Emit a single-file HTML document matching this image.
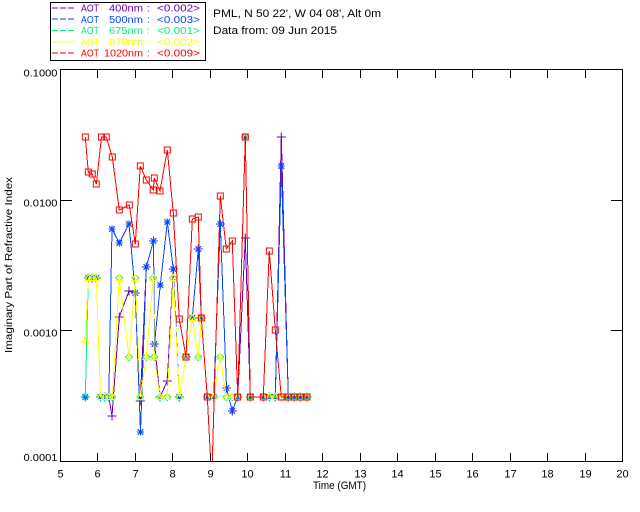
<!DOCTYPE html>
<html>
<head>
<meta charset="utf-8">
<style>
  html,body{margin:0;padding:0;background:#fff;}
  svg{display:block;}
  text{font-family:"Liberation Sans", sans-serif;}
</style>
</head>
<body>
<svg width="640" height="512" viewBox="0 0 640 512" xmlns="http://www.w3.org/2000/svg">
  <defs>
    <clipPath id="plot"><rect x="60" y="69" width="563" height="393"/></clipPath>
    <marker id="mPlus" markerUnits="userSpaceOnUse" markerWidth="12" markerHeight="12" viewBox="-6 -6 12 12" refX="0" refY="0" overflow="visible">
      <path d="M-4.5 0H4.5M0 -4.5V4.5" stroke="#6c00b4" stroke-width="1" fill="none"/>
    </marker>
    <marker id="mStar" markerUnits="userSpaceOnUse" markerWidth="12" markerHeight="12" viewBox="-6 -6 12 12" refX="0" refY="0" overflow="visible">
      <path d="M-3.5 0H3.5M0 -3.5V3.5M-2.8 -2.8L2.8 2.8M-2.8 2.8L2.8 -2.8" stroke="#0a46ff" stroke-width="1.1" fill="none"/>
    </marker>
    <marker id="mDia" markerUnits="userSpaceOnUse" markerWidth="12" markerHeight="12" viewBox="-6 -6 12 12" refX="0" refY="0" overflow="visible">
      <path d="M0 -3.5L3.5 0L0 3.5L-3.5 0Z" stroke="#00f080" stroke-width="1" fill="none"/>
    </marker>
    <marker id="mTri" markerUnits="userSpaceOnUse" markerWidth="12" markerHeight="12" viewBox="-6 -6 12 12" refX="0" refY="0" overflow="visible">
      <path d="M0 -3.5L3.5 2.5L-3.5 2.5Z" stroke="#ffff00" stroke-width="1" fill="none"/>
    </marker>
    <marker id="mSq" markerUnits="userSpaceOnUse" markerWidth="12" markerHeight="12" viewBox="-6 -6 12 12" refX="0" refY="0" overflow="visible">
      <rect x="-3" y="-3" width="6" height="6" stroke="#ff0000" stroke-width="1" fill="none"/>
    </marker>
  </defs>

  <!-- Legend -->
  <rect x="50.5" y="2.5" width="155" height="58" fill="none" stroke="#000" stroke-width="1"/>
  <g stroke-width="1" stroke-dasharray="6,2">
    <line x1="52" y1="8" x2="74" y2="8" stroke="#6c00b4"/>
    <line x1="52" y1="19" x2="74" y2="19" stroke="#0a46ff"/>
    <line x1="52" y1="30.5" x2="74" y2="30.5" stroke="#00f080"/>
    <line x1="52" y1="42" x2="74" y2="42" stroke="#ffff00"/>
    <line x1="52" y1="53" x2="74" y2="53" stroke="#ff0000"/>
  </g>
  <g font-size="10">
    <g fill="#6c00b4">
      <text x="81" y="11.5" textLength="18" lengthAdjust="spacingAndGlyphs">AOT</text>
      <text x="109" y="11.5" textLength="34" lengthAdjust="spacingAndGlyphs">400nm</text>
      <text x="147" y="11.5">:</text>
      <text x="157" y="11.5" textLength="43" lengthAdjust="spacingAndGlyphs">&lt;0.002&gt;</text>
    </g>
    <g fill="#0a46ff">
      <text x="81" y="22.8" textLength="18" lengthAdjust="spacingAndGlyphs">AOT</text>
      <text x="109" y="22.8" textLength="34" lengthAdjust="spacingAndGlyphs">500nm</text>
      <text x="147" y="22.8">:</text>
      <text x="157" y="22.8" textLength="43" lengthAdjust="spacingAndGlyphs">&lt;0.003&gt;</text>
    </g>
    <g fill="#00f080">
      <text x="81" y="34.1" textLength="18" lengthAdjust="spacingAndGlyphs">AOT</text>
      <text x="109" y="34.1" textLength="34" lengthAdjust="spacingAndGlyphs">675nm</text>
      <text x="147" y="34.1">:</text>
      <text x="157" y="34.1" textLength="43" lengthAdjust="spacingAndGlyphs">&lt;0.001&gt;</text>
    </g>
    <g fill="#ffff00">
      <text x="81" y="45.4" textLength="18" lengthAdjust="spacingAndGlyphs">AOT</text>
      <text x="109" y="45.4" textLength="34" lengthAdjust="spacingAndGlyphs">870nm</text>
      <text x="147" y="45.4">:</text>
      <text x="157" y="45.4" textLength="43" lengthAdjust="spacingAndGlyphs">&lt;0.002&gt;</text>
    </g>
    <g fill="#ff0000">
      <text x="81" y="56.7" textLength="18" lengthAdjust="spacingAndGlyphs">AOT</text>
      <text x="104" y="56.7" textLength="39" lengthAdjust="spacingAndGlyphs">1020nm</text>
      <text x="147" y="56.7">:</text>
      <text x="157" y="56.7" textLength="43" lengthAdjust="spacingAndGlyphs">&lt;0.009&gt;</text>
    </g>
  </g>

  <!-- Header text -->
  <text x="213" y="17" font-size="11" textLength="168" lengthAdjust="spacingAndGlyphs">PML, N 50 22', W 04 08', Alt 0m</text>
  <text x="213" y="34" font-size="11" textLength="124" lengthAdjust="spacingAndGlyphs">Data from: 09 Jun 2015</text>

  <!-- Data series -->
  <g clip-path="url(#plot)" fill="none" stroke-width="1" shape-rendering="crispEdges">
    <polyline stroke="#6c00b4" marker-start="url(#mPlus)" marker-mid="url(#mPlus)" marker-end="url(#mPlus)"
      points="85.3,397 88.3,278 92.3,278 96.3,278 100.5,397 104.8,397 108.8,397 112,416 119.3,317 129,291 135.3,293 140.3,401 146.3,267 153.5,241 154.5,344 160,397 167.3,381 173.3,269 179.3,397 186,357 192.3,318 198.3,249 201.3,318 207.3,397 213.7,397 220.3,224 226.5,388 232.3,411 237.7,397 245.3,238 250.3,397 263.3,397 269.3,397 275.3,397 281.3,137 288.3,397 294.3,397 300.3,397 307,397"/>
    <polyline stroke="#0a46ff" marker-start="url(#mStar)" marker-mid="url(#mStar)" marker-end="url(#mStar)"
      points="85.3,397 88.3,278 92.3,278 96.3,278 100.5,397 104.8,397 108.8,397 112,229 119.3,243 129,224 135.3,293 140.5,432 146.3,267 153.5,241 154.5,344 160.3,285 167.3,222 173.3,269 179.3,397 186,357 192.3,318 198.3,249 201.3,318 207.3,397 213.7,397 220.3,224 226.5,388 232.3,411 237.7,397 245.3,137 250.3,397 263.3,397 269.3,397 275.3,397 281.3,166 288.3,397 294.3,397 300.3,397 307,397"/>
    <polyline stroke="#00f080" marker-start="url(#mDia)" marker-mid="url(#mDia)" marker-end="url(#mDia)"
      points="85.3,397 88.3,278 92.3,278 96.3,278 100.5,397 104.8,397 108.8,397 112.3,397 119.3,278 129,357 135.3,278 140.3,397 146.3,357 153.3,278 154.3,357 160,397 167.3,397 173.3,278 179.3,397 186,357 192.3,318 198.3,357 201.3,318 207.3,397 213.7,397 220.3,357 226.3,397 232.3,397 237.7,397 245.3,137 250.3,397 263.3,397 269.3,397 275.3,397 281.3,397 288.3,397 294.3,397 300.3,397 307,397"/>
    <polyline stroke="#ffff00" marker-start="url(#mTri)" marker-mid="url(#mTri)" marker-end="url(#mTri)"
      points="85.3,340 88.3,278 92.3,278 96.3,278 100.5,397 104.8,397 108.8,397 112.3,397 119.3,278 129,357 135.3,278 140.3,397 146.3,357 153.3,278 154.3,357 160,397 167.3,397 173.3,278 179.3,397 186,357 192.3,318 198.3,357 201.3,318 207.3,397 213.7,397 220.3,357 226.3,397 232.3,397 237.7,397 245.3,137 250.3,397 263.3,397 269.3,397 275.3,397 281.3,397 288.3,397 294.3,397 300.3,397 307,397"/>
    <polyline stroke="#ff0000" marker-start="url(#mSq)" marker-mid="url(#mSq)" marker-end="url(#mSq)"
      points="85.3,137 88.3,172 92.3,174 96.3,184 101.5,137 106.3,137 112.3,157 119.3,210 129.3,205 135.3,244 140.3,166 146.3,180 153.3,190 154.3,178 160,191 167.3,150 173.3,213 179.3,319 186,357 192.3,219 198.3,217 201.3,318 207.3,397 211.7,480 220.3,196 226.3,249 232.3,241 237.7,397 245.3,137 250.3,397 263.3,397 269.3,251 275.3,330 281.3,397 288.3,397 294.3,397 300.3,397 307,397"/>
  </g>

  <!-- Axes box -->
  <g stroke="#000" stroke-width="1" fill="none" shape-rendering="crispEdges">
    <rect x="60.5" y="69.5" width="562" height="392"/>
    <!-- bottom & top x ticks -->
    <path d="M97.5 461V453M135.5 461V453M172.5 461V453M210.5 461V453M247.5 461V453M285.5 461V453M322.5 461V453M360.5 461V453M397.5 461V453M435.5 461V453M472.5 461V453M510.5 461V453M547.5 461V453M585.5 461V453"/>
    <path d="M97.5 70V78M135.5 70V78M172.5 70V78M210.5 70V78M247.5 70V78M285.5 70V78M322.5 70V78M360.5 70V78M397.5 70V78M435.5 70V78M472.5 70V78M510.5 70V78M547.5 70V78M585.5 70V78"/>
    <!-- y ticks -->
    <path d="M61 200.5H72M61 330.5H72M622 200.5H611M622 330.5H611"/>
  </g>

  <!-- Y tick labels -->
  <g font-size="10" text-anchor="end">
    <text x="57.5" y="76.5" textLength="34" lengthAdjust="spacingAndGlyphs">0.1000</text>
    <text x="57.5" y="206.5" textLength="34" lengthAdjust="spacingAndGlyphs">0.0100</text>
    <text x="57.5" y="336.5" textLength="34" lengthAdjust="spacingAndGlyphs">0.0010</text>
    <text x="57.5" y="461" textLength="34" lengthAdjust="spacingAndGlyphs">0.0001</text>
  </g>

  <!-- X tick labels -->
  <g font-size="11" text-anchor="middle">
    <text x="60.5" y="477.5">5</text>
    <text x="97.5" y="477.5">6</text>
    <text x="135.5" y="477.5">7</text>
    <text x="172.5" y="477.5">8</text>
    <text x="210.5" y="477.5">9</text>
    <text x="247.5" y="477.5">10</text>
    <text x="285.5" y="477.5">11</text>
    <text x="322.5" y="477.5">12</text>
    <text x="360.5" y="477.5">13</text>
    <text x="397.5" y="477.5">14</text>
    <text x="435.5" y="477.5">15</text>
    <text x="472.5" y="477.5">16</text>
    <text x="510.5" y="477.5">17</text>
    <text x="547.5" y="477.5">18</text>
    <text x="585.5" y="477.5">19</text>
    <text x="622.5" y="477.5">20</text>
  </g>

  <!-- Axis titles -->
  <text x="313" y="489" font-size="11" textLength="53" lengthAdjust="spacingAndGlyphs">Time (GMT)</text>
  <text transform="translate(12,265) rotate(-90)" x="0" y="0" font-size="10" text-anchor="middle" textLength="176" lengthAdjust="spacingAndGlyphs">Imaginary Part of Refractive Index</text>
</svg>
</body>
</html>
